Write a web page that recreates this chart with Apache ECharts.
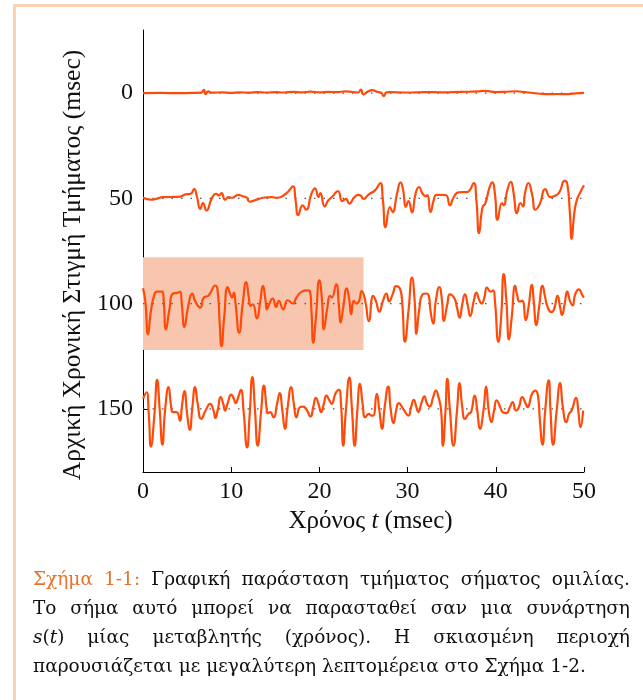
<!DOCTYPE html>
<html>
<head>
<meta charset="utf-8">
<script src="https://cdn.jsdelivr.net/npm/echarts@6/dist/echarts.min.js"></script>
<style>
  html, body { margin: 0; padding: 0; background: #fff; }
  #wrap { position: relative; width: 643px; height: 700px; overflow: hidden; }
  #frame { position: absolute; left: 13px; top: 4px; right: -10px; bottom: -10px;
           border-top: 3px solid #fdd3b5; border-left: 3px solid #fdd3b5; }
  #chart { position: absolute; left: 0; top: 0; width: 643px; height: 700px; }
  #caption { position: absolute; left: 33px; top: 564px; width: 597px;
             font-family: "DejaVu Serif", serif; font-size: 18.5px; line-height: 29px; color: #111; }
  .ln { display: flex; justify-content: space-between; white-space: nowrap; }
  .last { white-space: nowrap; }
  .or { color: #e8742c; }
</style>
</head>
<body>
<div id="wrap">
  <div id="frame"></div>
  <div id="chart"></div>
  <div id="caption">
    <div class="ln"><span class="or">Σχήμα</span><span class="or">1-1:</span><span>Γραφική</span><span>παράσταση</span><span>τμήματος</span><span>σήματος</span><span>ομιλίας.</span></div>
    <div class="ln"><span>Το</span><span>σήμα</span><span>αυτό</span><span>μπορεί</span><span>να</span><span>παρασταθεί</span><span>σαν</span><span>μια</span><span>συνάρτηση</span></div>
    <div class="ln"><span><i>s</i>(<i>t</i>)</span><span>μίας</span><span>μεταβλητής</span><span>(χρόνος).</span><span>Η</span><span>σκιασμένη</span><span>περιοχή</span></div>
    <div class="last">παρουσιάζεται με μεγαλύτερη λεπτομέρεια στο Σχήμα 1-2.</div>
  </div>
</div>
<script>
// start time of each 50 msec segment (y axis)
var offsets = [0, 50, 100, 150];
var yTicks = [0, 50, 100, 150];
// shaded part: t 0..25, around the segment starting at 100
var shadeT = [0, 25];
var shadeY = [78, 122];

// [t (msec), amplitude], up = positive
var seg0 = [[0,0],[2,0.1],[4,0],[5.5,0.1],[6.6,0.2],[6.9,1.6],[7.1,-0.5],[7.4,0.8],[7.8,0.2],[9,0.4],[10,0.1],[11,0.4],[12,0.2],[13,0.5],[14,0.3],[15,0.5],[16,0.3],[17,0.6],[18,0.4],[19,0.7],[20,0.4],[21,0.6],[22,0.5],[23,0.8],[24.4,0.3],[24.7,1.7],[25.0,-0.6],[25.5,0.8],[26,1.4],[26.5,0.7],[27.0,0.2],[27.3,-1.4],[27.6,0.4],[28,0.5],[30,0.3],[32,0.5],[34,0.4],[36,0.6],[38,0.8],[38.6,1.1],[39.5,0.7],[40,0.5],[41,0.6],[42.3,0.9],[43,0.6],[44,0.2],[45,-0.3],[46,-0.5],[47,-0.4],[48,-0.5],[49,-0.1],[50,0.1]];
var seg50 = [[0,0.3],[0.9,-0.6],[1.4,-0.3],[2.3,0.6],[3.5,0.7],[4.2,0.8],[4.8,1.9],[5.4,2.2],[5.8,4.4],[6.1,1],[6.5,-5],[6.8,-2.2],[7.2,-5.7],[7.8,0],[8.3,2.2],[8.6,1.4],[8.9,2.5],[9.3,-0.6],[9.7,0.6],[10.1,0.3],[10.8,1.7],[11.3,1],[11.7,0.6],[12.1,-1.6],[12.9,-0.6],[13.6,0.3],[14.6,0.6],[15.2,0.3],[16.2,2.2],[17.0,5.7],[17.3,-1],[17.6,-8],[18.1,-3.3],[18.5,-5.4],[19.1,2.2],[19.5,4.8],[19.9,0.6],[20.1,2.5],[20.6,-3.8],[21.0,-1],[21.5,1],[22.1,3.5],[22.6,-1.3],[23.0,-0.2],[23.4,-2.5],[23.9,0.2],[24.4,1.7],[24.7,1.3],[25.0,-0.3],[25.6,1.9],[26.3,3.8],[26.9,7.3],[27.2,-1],[27.5,-13.7],[28.0,-4.1],[28.3,-6.5],[28.8,2.2],[29.2,7.6],[29.5,3.8],[29.8,-4.1],[30.1,-1.3],[30.5,-6.7],[30.9,2.2],[31.3,5.4],[31.7,2.2],[32.1,1.0],[32.25,1.6],[32.6,-6.5],[33.0,-0.2],[33.3,1.7],[34.3,1.6],[34.8,-3.3],[35.2,0.3],[35.8,2.9],[36.7,3.0],[37.5,7.3],[37.8,-1],[38.1,-16.5],[38.5,-4.1],[38.8,-2.5],[39.3,5.4],[39.6,7.6],[39.9,2.2],[40.2,-10.2],[40.7,-2.2],[40.9,-3.3],[41.3,3.8],[41.7,7.8],[42.0,3],[42.4,-7],[42.8,-2.2],[43.1,-3.8],[43.3,2.2],[43.7,7.3],[44.1,2.2],[44.5,-5.4],[45.0,-2.5],[45.6,4.4],[46.2,0.6],[46.6,1],[47.2,2.9],[47.8,8.3],[48.1,7],[48.4,-7],[48.6,-19.2],[48.9,-7],[49.2,-0.6],[49.6,3.0],[50,6.2]];
var seg100 = [[0,7.3],[0.26,1.3],[0.57,-14.6],[0.9,-3.5],[1.3,4.4],[1.6,5.7],[2.2,5.7],[2.35,1.3],[2.6,-12.2],[3.0,-2.7],[3.4,4.8],[3.9,5.1],[4.2,5.7],[4.4,-0.3],[4.7,-11.1],[5.1,-1.9],[5.6,4.8],[5.9,1.3],[6.5,-1.9],[6.9,2.9],[7.4,3.7],[8.2,8.6],[8.5,4.4],[8.7,-9.8],[8.9,-20.2],[9.2,-6.7],[9.6,7.9],[9.9,4.4],[10.1,2.9],[10.3,5.2],[10.5,-0.3],[10.9,-13.8],[11.3,-0.3],[11.7,10.2],[12.0,2.9],[12.2,-1.1],[12.45,-0.3],[12.9,-7],[13.3,1.3],[13.6,8.4],[13.9,1.3],[14.05,-2.7],[14.3,-0.3],[14.7,2.4],[15.1,-1.6],[15.4,1.3],[15.9,-2.7],[16.4,1.6],[17.0,0],[17.4,2.9],[18.0,5.7],[18.6,6.3],[18.9,6],[19.1,-3.5],[19.3,-18.6],[19.6,-6.7],[20.0,11.1],[20.3,1.3],[20.5,-12.2],[20.9,-1.9],[21.2,3.7],[21.4,2.9],[21.9,9.2],[22.2,-0.3],[22.4,-9],[22.7,-1.9],[23.1,7.3],[23.4,1.3],[23.6,-5.1],[23.9,1.3],[24.2,0],[24.5,1.3],[24.8,6.0],[25.2,1.3],[25.6,-8.3],[26.1,3.7],[26.4,1.3],[26.8,-3.8],[27.2,1.3],[27.6,4.8],[27.9,1],[28.3,4.4],[28.7,8.3],[29.2,6.3],[29.4,-0.3],[29.7,-18.1],[30.1,-3.5],[30.5,12.4],[30.8,1.3],[31.0,-14.3],[31.3,-3.5],[31.7,4.4],[32.1,4.8],[32.4,3.7],[32.6,-3.5],[32.9,-9.5],[33.2,1.3],[33.6,7.9],[33.9,1.3],[34.1,-8.3],[34.5,-0.3],[34.8,4.4],[35.3,2.5],[35.6,-1.9],[35.9,-6.7],[36.2,-0.3],[36.5,4.4],[36.8,-0.3],[37.1,-5.9],[37.5,1.3],[37.8,5.2],[38.1,2],[38.4,0],[38.7,2.9],[39.0,7.6],[39.4,5.7],[39.7,6.3],[39.9,1.3],[40.3,-18.1],[40.6,-6.7],[40.9,14],[41.2,1.3],[41.5,-17],[41.8,-6.7],[42.2,8.4],[42.4,4.4],[42.7,1],[43.0,1.3],[43.4,-7.9],[43.7,-1.9],[44.1,8.9],[44.3,1.3],[44.6,-10.2],[44.9,-1.9],[45.3,8.4],[45.6,2.9],[45.9,-1.9],[46.3,-4],[46.6,-2.7],[47.0,3.7],[47.3,-1.9],[47.5,-5.4],[47.8,-0.3],[48.1,5.7],[48.4,1.3],[48.7,-0.8],[49.0,4.4],[49.4,6.8],[49.85,3.7],[50,3]];
var seg150 = [[0,4.8],[0.4,7.9],[0.65,-2.4],[0.9,-17.9],[1.3,-2.4],[1.6,13.8],[1.9,-0.8],[2.2,-17],[2.5,-0.8],[2.9,10.3],[3.2,0.8],[3.4,-1.6],[3.8,-1.6],[4.2,-5.6],[4.4,0.8],[4.7,8.4],[5.0,-2.4],[5.3,-10],[5.6,0.8],[5.9,10.3],[6.2,2.4],[6.6,-4.8],[7.1,-0.8],[7.6,2.4],[8.0,-0.8],[8.2,-4.3],[8.5,0],[8.8,5.6],[9.1,2.4],[9.3,-0.8],[9.6,2.7],[10.0,6.8],[10.3,4.8],[10.5,2.7],[10.8,5.6],[11.1,9],[11.4,-0.8],[11.8,-18.3],[12.1,-2.4],[12.4,15.1],[12.7,-0.8],[13.0,-17.5],[13.4,-0.8],[13.7,11.1],[14.0,0.8],[14.1,-2.1],[14.4,-1.6],[14.8,-4],[15.2,2.4],[15.5,7.5],[15.8,-0.8],[16.1,-9.5],[16.4,0.8],[16.8,10.3],[17.1,2.4],[17.4,-4],[17.8,0.8],[18.2,1.1],[18.6,-0.8],[19.0,-3.7],[19.3,0.8],[19.6,5.2],[19.9,2.4],[20.2,-1.6],[20.5,2.4],[20.8,6.3],[21.1,4.3],[21.4,2.4],[21.8,7.1],[22.2,9],[22.45,2.4],[22.7,-17.5],[23.0,-0.8],[23.4,14.8],[23.7,-0.8],[24.0,-17.5],[24.3,-0.8],[24.6,11.9],[24.9,2.4],[25.2,-4],[25.6,-2.4],[25.9,-3.2],[26.1,-3.2],[26.5,7.1],[26.8,-0.8],[27.1,-9.5],[27.4,0.8],[27.8,10.6],[28.1,-0.8],[28.4,-6.8],[28.7,-0.8],[29.0,2.7],[29.5,0],[30.1,-3.2],[30.4,0.8],[30.7,4.3],[31.0,0.8],[31.2,-1.6],[31.6,3.2],[31.9,5.9],[32.2,2.4],[32.5,1.1],[32.9,5.6],[33.2,8.7],[33.5,5.6],[33.8,-0.8],[34.0,-17.5],[34.3,-0.8],[34.5,14.3],[34.8,-0.8],[35.2,-17.5],[35.6,-0.8],[35.9,12.2],[36.2,0.8],[36.5,-4.8],[36.9,-2.4],[37.2,-1.6],[37.6,6.3],[37.9,-0.8],[38.2,-9.5],[38.6,-0.8],[38.9,10.6],[39.2,-0.8],[39.5,-6.3],[39.8,-0.8],[40.1,4],[40.5,0.8],[40.8,-1.6],[41.2,-2],[41.6,0.8],[41.9,3.2],[42.3,-0.8],[42.6,0.5],[43.0,5.6],[43.4,2.4],[43.6,0.8],[44.1,7.1],[44.5,8.7],[44.8,5.6],[45.0,-5.6],[45.3,-17],[45.6,-0.8],[46.0,13.5],[46.2,-0.8],[46.5,-17],[46.9,-0.8],[47.3,12.2],[47.6,0.8],[48.0,-6.3],[48.3,-2.4],[48.6,-0.8],[49.1,5.2],[49.35,-0.8],[49.6,-8.7],[49.9,-0.8]];

var segs = [seg0, seg50, seg100, seg150];
var font = "Liberation Serif";
var waveColor = "#ff4a0a";

var myChart = echarts.init(document.getElementById("chart"));
var series = [];

// shaded region
series.push({
  type: "line",
  data: [],
  silent: true,
  markArea: {
    silent: true,
    itemStyle: { color: "#f8c5ae", opacity: 1 },
    data: [[{ coord: [shadeT[0], shadeY[0]] }, { coord: [shadeT[1], shadeY[1]] }]],
  },
});

offsets.forEach(function (off, i) {
  // dotted zero line of each segment
  series.push({
    type: "line",
    z: 2,
    silent: true,
    showSymbol: false,
    data: [[0, off], [50, off]],
    lineStyle: { color: "#555", width: 1.2, type: [1.5, 8] },
  });
  series.push({
    type: "line",
    z: 3,
    silent: true,
    showSymbol: false,
    smooth: 0.55,
    data: segs[i].map(function (p) { return [p[0], off - p[1]]; }),
    lineStyle: { color: waveColor, width: 2.2 },
  });
});

var option = {
  animation: false,
  grid: { left: 143, right: 59, top: 30, bottom: 228, outerBoundsMode: "none" },
  xAxis: {
    type: "value",
    min: 0,
    max: 50,
    interval: 10,
    name: "Χρόνος {i|t} (msec)",
    nameLocation: "middle",
    nameGap: 36,
    nameTextStyle: {
      fontFamily: font, fontSize: 25, color: "#111", padding: [0, 0, 0, 14],
      rich: { i: { fontFamily: font, fontSize: 25, fontStyle: "italic", color: "#111" } },
    },
    axisLine: { onZero: false, lineStyle: { color: "#000", width: 1 } },
    axisTick: { inside: true, length: 5, lineStyle: { color: "#000" } },
    axisLabel: { margin: 8, fontFamily: font, fontSize: 24, color: "#111" },
    splitLine: { show: false },
  },
  yAxis: {
    type: "value",
    min: -30,
    max: 180,
    inverse: true,
    name: "Αρχική Χρονική Στιγμή Τμήματος (msec)",
    nameLocation: "middle",
    nameGap: 50,
    nameTextStyle: { fontFamily: font, fontSize: 25.5, color: "#111", padding: [0, 28, 0, 0] },
    axisLine: { onZero: false, lineStyle: { color: "#000", width: 1 } },
    axisTick: { inside: true, length: 5, customValues: yTicks, lineStyle: { color: "#000" } },
    axisLabel: { margin: 10, customValues: yTicks, fontFamily: font, fontSize: 24, color: "#111" },
    splitLine: { show: false },
  },
  series: series,
};
myChart.setOption(option, true);
</script>
</body>
</html>
